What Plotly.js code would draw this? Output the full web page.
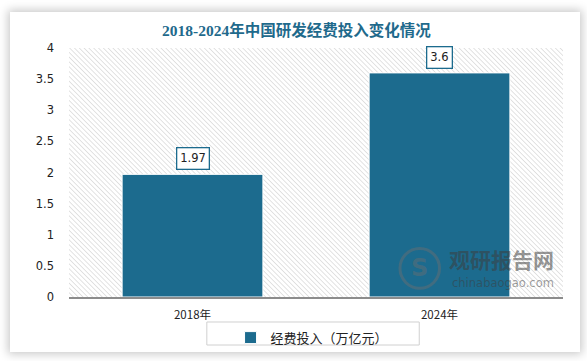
<!DOCTYPE html>
<html>
<head>
<meta charset="utf-8">
<script src="https://cdn.plot.ly/plotly-3.0.1.min.js"></script>
<style>
html,body{margin:0;padding:0;background:#fff;width:587px;height:361px;overflow:hidden;}
#card{position:absolute;left:10px;top:12px;width:570px;height:340px;background:#fff;box-shadow:0 0 9px 2px rgba(0,0,0,0.22);}
#chart{position:absolute;left:0;top:0;width:587px;height:361px;}
</style>
</head>
<body>
<div id="card"></div>
<div id="chart"></div>
<script>
var categories = ["2018年", "2024年"];
var values = [1.97, 3.6];
var labels = ["1.97", "3.6"];
var seriesName = "经费投入（万亿元）";
var titleText = "2018-2024年中国研发经费投入变化情况";
var yTicks = [0, 0.5, 1, 1.5, 2, 2.5, 3, 3.5, 4];

var barColor = "#1c6b8e";
var svg = '<svg xmlns="http://www.w3.org/2000/svg" width="494" height="249">' +
  '<defs><pattern id="p" width="3.4" height="3.4" patternUnits="userSpaceOnUse" patternTransform="rotate(-45)">' +
  '<line x1="0" y1="0" x2="0" y2="3.4" stroke="#d4d4d4" stroke-width="1.3"/></pattern></defs>' +
  '<rect width="100%" height="100%" fill="url(#p)"/></svg>';
var hatch = "data:image/svg+xml;charset=utf-8," + encodeURIComponent(svg);

var trace = {
  type: "bar",
  x: categories,
  y: values,
  name: seriesName,
  width: 0.57,
  marker: {color: barColor, line: {color: "#ffffff", width: 1}},
  hoverinfo: "none"
};

var annotations = categories.map(function(c, i) {
  return {
    x: c, y: values[i], xref: "x", yref: "y",
    text: labels[i], showarrow: false,
    yanchor: "bottom", yshift: 4,
    bgcolor: "#ffffff", bordercolor: "#1c6b8e", borderwidth: 1.3, borderpad: 3,
    font: {family: "DejaVu Sans, sans-serif", size: 11.5, color: "#222"}
  };
});
annotations.push({
  xref: "paper", yref: "paper", x: 0.985, y: 0.085, xanchor: "right", yanchor: "bottom",
  text: "<b>观研报告网</b>", showarrow: false,
  font: {family: "Noto Sans CJK SC", size: 21, color: "rgba(60,60,60,0.55)"}
});
annotations.push({
  xref: "paper", yref: "paper", x: 0.985, y: 0.02, xanchor: "right", yanchor: "bottom",
  text: "chinabaogao.com", showarrow: false,
  font: {family: "DejaVu Sans, sans-serif", size: 11.5, color: "rgba(60,60,60,0.5)"}
});
annotations.push({
  xref: "paper", yref: "paper", x: 0.71, y: 0.115, xanchor: "center", yanchor: "middle",
  text: "<b>S</b>", showarrow: false,
  font: {family: "DejaVu Sans, sans-serif", size: 24, color: "rgba(110,110,110,0.45)"}
});

var layout = {
  width: 587, height: 361,
  margin: {l: 69, r: 24, t: 48, b: 64, pad: 0, autoexpand: false},
  paper_bgcolor: "rgba(0,0,0,0)",
  plot_bgcolor: "rgba(0,0,0,0)",
  title: {
    text: "<b>" + titleText + "</b>",
    x: 0.505, xanchor: "center", y: 0.915, yanchor: "middle",
    font: {family: "Liberation Serif, Noto Sans CJK SC", size: 15.5, color: "#1f6a8c"}
  },
  xaxis: {
    showgrid: false, zeroline: false,
    showline: true, linecolor: "#8c8c8c", linewidth: 1.5,
    ticks: "", ticklabelstandoff: 7,
    tickfont: {family: "Noto Sans CJK SC", size: 11.5, color: "#222"},
    fixedrange: true
  },
  yaxis: {
    range: [0, 4], tickvals: yTicks, ticktext: yTicks.map(String),
    showgrid: false, zeroline: false, showline: false, ticks: "",
    ticklabelstandoff: 14,
    tickfont: {family: "DejaVu Sans, sans-serif", size: 11.5, color: "#222"},
    fixedrange: true
  },
  images: [{
    source: hatch, xref: "paper", yref: "paper", x: 0, y: 1, sizex: 1, sizey: 1,
    xanchor: "left", yanchor: "top", sizing: "stretch", layer: "below"
  }],
  shapes: [
    {type: "rect", xref: "paper", yref: "paper", x0: 0.279, x1: 0.709, y0: -0.1004, y1: -0.1928,
     line: {color: "#d0d0d0", width: 1}, fillcolor: "rgba(0,0,0,0)", layer: "above"},
    {type: "circle", xref: "paper", yref: "paper", x0: 0.67, x1: 0.75, y0: 0.035, y1: 0.195,
     line: {color: "rgba(110,110,110,0.45)", width: 3}, fillcolor: "rgba(0,0,0,0)", layer: "above"}
  ],
  showlegend: true,
  legend: {
    orientation: "h", x: 0.492, xanchor: "center", y: -0.103, yanchor: "top",
    borderwidth: 0, bgcolor: "rgba(0,0,0,0)",
    font: {family: "Noto Sans CJK SC", size: 13, color: "#222"},
    itemwidth: 30
  },
  annotations: annotations
};

Plotly.newPlot("chart", [trace], layout, {staticPlot: true, displayModeBar: false});
</script>
</body>
</html>
